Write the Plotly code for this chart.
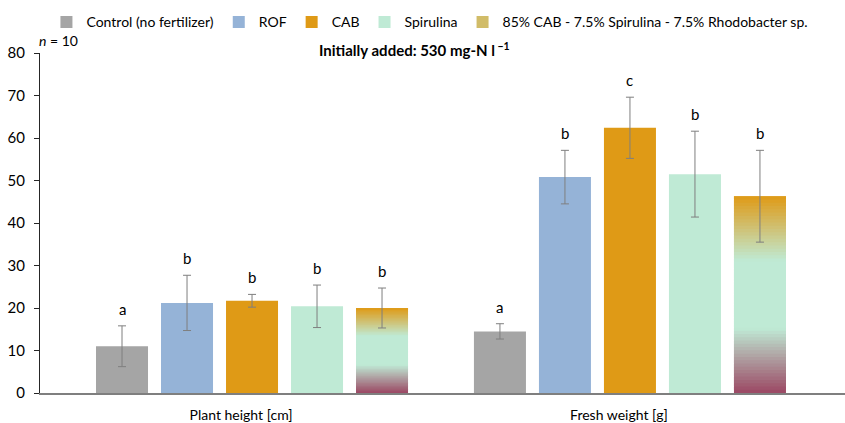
import plotly.graph_objects as go
from plotly.colors import sample_colorscale

categories = ["Plant height [cm]", "Fresh weight [g]"]
series_names = ["Control (no fertilizer)", "ROF", "CAB", "Spirulina",
                "85% CAB - 7.5% Spirulina - 7.5% Rhodobacter sp."]
control = [11.0, 14.5]
rof = [21.2, 50.8]
cab = [21.7, 62.4]
spirulina = [20.4, 51.5]
mix = [20.0, 46.3]
control_err = [4.8, 1.8]
rof_err = [6.5, 6.3]
cab_err = [1.5, 7.2]
spirulina_err = [5.0, 10.1]
mix_err = [4.7, 10.8]
control_letters = ["a", "a"]
rof_letters = ["b", "b"]
cab_letters = ["b", "c"]
spirulina_letters = ["b", "b"]
mix_letters = ["b", "b"]
y_ticks = [0, 10, 20, 30, 40, 50, 60, 70, 80]

values = [control, rof, cab, spirulina, mix]
errors = [control_err, rof_err, cab_err, spirulina_err, mix_err]
letters = [control_letters, rof_letters, cab_letters, spirulina_letters, mix_letters]
colors = ["#a5a5a5", "#95b3d7", "#df9a16", "#bfead5"]
mix_scale = [[0.0, "#9b4763"], [0.33, "#bfead5"], [0.67, "#bfead5"], [1.0, "#df9a16"]]

FONT = "Lato, 'Open Sans', sans-serif"
err_style = dict(type="data", thickness=1, width=4, color="#7f7f7f")

fig = go.Figure()
for i in range(4):
    fig.add_trace(go.Bar(
        x=categories, y=values[i], name=series_names[i], offsetgroup=str(i),
        marker=dict(color=colors[i], line=dict(width=0)),
        error_y=dict(array=errors[i], **err_style),
    ))

# gradient-filled mixture bar as overlapping stacked slices (no seams)
N = 60
cols = sample_colorscale(mix_scale, [(k + 0.5) / N for k in range(N)])
for k in range(N):
    lo = k / N
    hi = min((k + 2) / N, 1.0)
    fig.add_trace(go.Bar(
        x=categories, y=[v * (hi - lo) for v in mix], base=[v * lo for v in mix],
        name=series_names[4], offsetgroup="4",
        marker=dict(color=cols[k], line=dict(width=0)),
        showlegend=(k == int(N * 0.85)), legendrank=1000,
        hoverinfo="skip",
    ))
# error bars for the mixture
fig.add_trace(go.Bar(
    x=categories, y=mix, offsetgroup="4", showlegend=False,
    marker=dict(color="rgba(0,0,0,0)", line=dict(width=0)),
    error_y=dict(array=mix_err, **err_style),
))

slot = (1 - 0.14) / 5
for i in range(5):
    for j in range(len(categories)):
        fig.add_annotation(
            x=j + (i - 2) * slot, y=values[i][j] + errors[i][j], xref="x", yref="y",
            text=letters[i][j], showarrow=False, yanchor="bottom", yshift=6,
            font=dict(size=15, color="#000", family=FONT),
        )

fig.add_annotation(
    x=0.465, y=1.01, xref="paper", yref="paper", yanchor="middle",
    text="<b>Initially added: 530 mg-N l<sup> −1</sup></b>", showarrow=False,
    font=dict(size=15, color="#000", family=FONT),
)
fig.add_annotation(
    x=-0.004, y=1.0, xref="paper", yref="paper", xanchor="left", yanchor="bottom",
    text="<i>n</i> = 10", showarrow=False, yshift=2,
    font=dict(size=14, color="#000", family=FONT),
)

fig.update_layout(
    width=845, height=423,
    margin=dict(l=40, r=0, t=53, b=30, autoexpand=False),
    paper_bgcolor="white", plot_bgcolor="white",
    barmode="group", bargap=0.14, bargroupgap=0.2,
    font=dict(family=FONT, size=14, color="#000"),
    legend=dict(orientation="h", x=0.008, y=0.985, yanchor="top", yref="container",
                xanchor="left", font=dict(size=14, family=FONT), itemwidth=30,
                traceorder="normal", tracegroupgap=0),
    showlegend=True,
)
fig.update_xaxes(range=[-0.561, 1.569], showline=True, linecolor="#7f7f7f", linewidth=1.5,
                 ticks="", tickfont=dict(size=14, family=FONT), showgrid=False,
                 ticklabelstandoff=8, ticklabelshift=-11, automargin=False)
fig.update_yaxes(range=[0, 80], tickvals=y_ticks, showline=True, linecolor="#262626",
                 linewidth=1, ticks="outside", ticklen=5, tickcolor="#262626",
                 showgrid=False, zeroline=False, tickfont=dict(size=15, family=FONT),
                 ticklabelstandoff=6, automargin=False)
fig.write_html("out.html", config={"displayModeBar": False},
               post_script="document.body.style.margin='0';")
